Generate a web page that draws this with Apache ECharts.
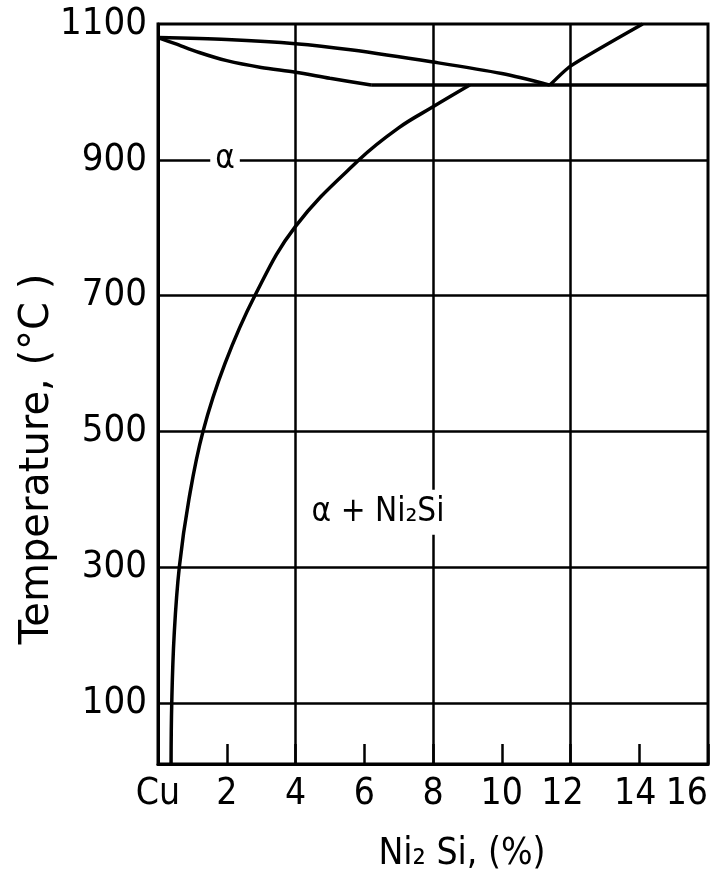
<!DOCTYPE html>
<html>
<head>
<meta charset="utf-8">
<script src="https://cdn.jsdelivr.net/npm/echarts@6.0.0/dist/echarts.min.js"></script>
<style>
    html, body { margin: 0; padding: 0; background: #fff; }
    #chart { width: 714px; height: 878px; }
</style>
</head>
<body>
<div id="chart"></div>
<script>
(function () {
    // tick labels
    var tempTicks = [100, 300, 500, 700, 900, 1100];
    var gridTemps = [100, 300, 500, 700, 900];
    var gridComps = [4, 8, 12];

    // phase boundaries [Ni2Si %, temperature]
    var liquidusLeft = [[0, 1080], [2, 1077], [4, 1071], [5.6, 1062], [8, 1044], [10, 1027], [11.4, 1010]];
    var liquidusRight = [[11.4, 1010], [12, 1038], [14.1, 1100]];
    var solidus = [[0, 1080], [0.5, 1071], [1.2, 1058], [2, 1046], [3, 1036], [4, 1029], [5, 1020], [6.2, 1010]];
    var eutectic = [[6.2, 1010], [16, 1010]];
    var solvus = [[0.38, 10], [0.40, 100], [0.47, 200], [0.62, 300], [0.9, 400], [1.31, 500], [1.95, 600],
        [2.82, 700], [4.0, 802], [5.85, 900], [7, 947], [8, 978], [9.07, 1010]];

    // phase labels
    var phaseLabels = [
        { name: 'α', value: [1.95, 900] },
        { name: 'α + Ni₂Si', value: [6.4, 381] }
    ];

    var chart = echarts.init(document.getElementById('chart'));
    var font = 'DejaVu Sans Condensed';

    function curve(data, smooth) {
        return {
            type: 'line',
            data: data,
            symbol: 'none',
            smooth: smooth,
            z: 3,
            lineStyle: { color: '#000', width: 3.5 }
        };
    }

    var eutecticSeries = curve(eutectic, false);
    eutecticSeries.markLine = {
        silent: true,
        symbol: 'none',
        label: { show: false },
        lineStyle: { color: '#000', width: 2.5, type: 'solid' },
        data: gridTemps.map(function (v) { return { yAxis: v }; })
            .concat(gridComps.map(function (v) { return { xAxis: v }; }))
    };

    // nudges for the crowded labels on the right of the x axis
    var xRich = {
        n: { fontFamily: font, fontSize: 37, color: '#000' },
        l12: { fontFamily: font, fontSize: 37, color: '#000', padding: [0, 16, 0, 0] },
        l14: { fontFamily: font, fontSize: 37, color: '#000', padding: [0, 8, 0, 0] }
    };

    var option = {
        backgroundColor: '#fff',
        animation: false,
        grid: {
            left: 158,
            right: 6,
            top: 24,
            bottom: 113,
            show: true,
            borderColor: '#000',
            borderWidth: 3
        },
        xAxis: {
            type: 'value',
            min: 0,
            max: 16,
            interval: 2,
            name: 'Ni₂ Si, (%)',
            nameLocation: 'middle',
            nameGap: 72,
            nameMoveOverlap: false,
            nameTextStyle: { fontFamily: font, fontSize: 37, color: '#000', padding: [0, 0, 0, 58] },
            axisLine: { lineStyle: { color: '#000', width: 3 } },
            axisTick: { inside: true, length: 20, lineStyle: { color: '#000', width: 2.5 } },
            splitLine: { show: false },
            axisLabel: {
                fontFamily: font,
                fontSize: 37,
                color: '#000',
                margin: 12,
                alignMaxLabel: 'right',
                rich: xRich,
                formatter: function (v) {
                    if (v === 0) return '{n|Cu}';
                    if (v === 12) return '{l12|12}';
                    if (v === 14) return '{l14|14}';
                    return '{n|' + v + '}';
                }
            }
        },
        yAxis: {
            type: 'value',
            min: 10,
            max: 1100,
            name: 'Temperature, (°C )',
            nameLocation: 'middle',
            nameGap: 100,
            nameMoveOverlap: false,
            nameTextStyle: { fontFamily: 'DejaVu Sans', fontSize: 40, color: '#000', padding: [0, 130, 0, 0] },
            axisLine: { lineStyle: { color: '#000', width: 3 } },
            axisTick: { show: false },
            splitLine: { show: false },
            axisLabel: {
                customValues: tempTicks,
                fontFamily: font,
                fontSize: 38,
                color: '#000',
                margin: 11,
                formatter: function (v) { return String(v); }
            }
        },
        series: [
            eutecticSeries,
            curve(liquidusLeft, 0.3),
            curve(liquidusRight, 0.2),
            curve(solidus, 0.3),
            curve(solvus, 0.4),
            {
                type: 'scatter',
                data: phaseLabels,
                symbolSize: 0,
                z: 5,
                itemStyle: { opacity: 1 },
                label: {
                    show: true,
                    position: 'inside',
                    formatter: '{b}',
                    fontFamily: font,
                    fontSize: 33,
                    color: '#000',
                    opacity: 1,
                    backgroundColor: '#fff',
                    padding: [6, 5]
                }
            }
        ]
    };

    chart.setOption(option);
})();
</script>
</body>
</html>
